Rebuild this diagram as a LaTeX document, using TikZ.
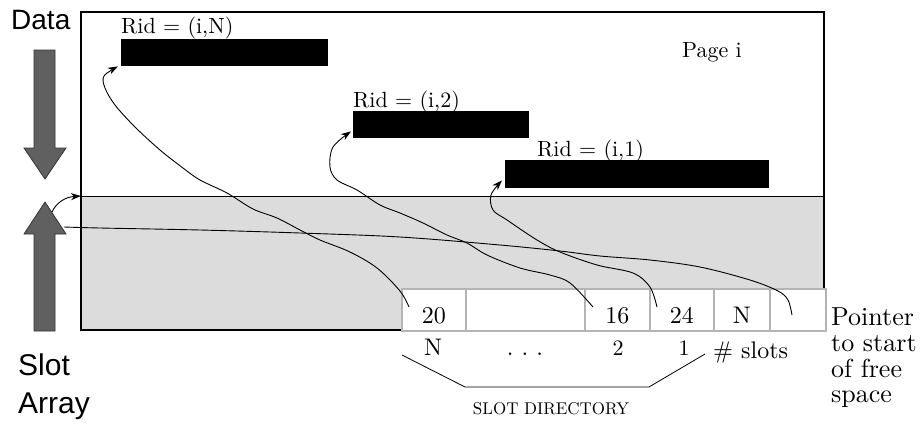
\documentclass[tikz,border=0pt]{standalone}
\usepackage{fontspec}
\setmainfont{lmroman10-regular.otf}[BoldFont=lmroman10-bold.otf]
\newfontfamily\sansf{Liberation Sans}
\usetikzlibrary{arrows.meta}
\definecolor{pagegray}{HTML}{DCDCDC}
\definecolor{arrowgray}{HTML}{606060}
\definecolor{arrowedge}{HTML}{333333}
\definecolor{cellgray}{HTML}{B4B4B4}
\tikzset{
  fs/.style={font=\fontsize{#1pt}{#1pt}\selectfont},
  sfs/.style={font=\sansf\fontsize{#1pt}{#1pt}\selectfont},
  cell/.style={draw=cellgray, line width=1.5pt, fill=white, minimum height=42pt,
    inner sep=0pt, text height=28pt, text depth=0pt, fs=24, anchor=north west},
  bar/.style={fill=black, inner sep=0pt, anchor=north west},
  blockarrow/.style={fill=arrowgray, draw=arrowedge, line width=0.8pt, line join=miter},
  conn/.style={line width=0.9pt, -{Stealth[length=10pt,width=7pt,inset=3pt]}},
  plain/.style={line width=0.9pt},
  lbl/.style={anchor=base west, inner sep=0pt},
}
\begin{document}
\begin{tikzpicture}[x=1pt,y=-1pt]
\useasboundingbox (0,0) rectangle (922,429);

% page
\fill[pagegray] (81,196) rectangle (824,330);
\draw[line width=1.8pt] (81,196) -- (81,12) -- (824,12) -- (824,288);
\draw[line width=1pt] (81,196) -- (824,196);
\draw[line width=1.6pt] (81,196) -- (81,330) -- (401,330);

% records
\node[bar, minimum width=207pt, minimum height=27pt] (barN) at (121,39) {};
\node[bar, minimum width=176pt, minimum height=27pt] (bar2) at (353,111) {};
\node[bar, minimum width=264pt, minimum height=28pt] (bar1) at (505,160) {};
\node[lbl, fs=22] (ridN) at (121,33) {Rid = (i,N)};
\node[lbl, fs=22] (rid2) at (353,107) {Rid = (i,2)};
\node[lbl, fs=22] (rid1) at (537,156) {Rid = (i,1)};
\node[lbl, fs=22] (pagei) at (682,57) {Page i};

% slot directory cells
\node[cell, minimum width=64pt] (c1) at (401,288) {20};
\node[cell, minimum width=119pt] (c2) at (465,288) {};
\node[cell, minimum width=65pt] (c3) at (584,288) {16};
\node[cell, minimum width=64pt] (c4) at (649,288) {24};
\node[cell, minimum width=56pt] (c5) at (713,288) {N};
\node[cell, minimum width=56pt] (c6) at (769,288) {};

% labels under cells
\node[anchor=base, inner sep=0pt, fs=24] (lN) at (433,355) {N};
\node[anchor=base, inner sep=0pt, fs=24] (ldots) at (525,355) {.\,\,.\,\,.};
\node[anchor=base, inner sep=0pt, fs=22] (l2) at (618,355) {2};
\node[anchor=base, inner sep=0pt, fs=22] (l1) at (684,355) {1};
\node[lbl, fs=24] (nslots) at (713,358) {\# slots};
\node[anchor=base, inner sep=0pt, fs=17] (sdir) at (551,414) {SLOT DIRECTORY};
\draw[line width=0.8pt] (402,355) -- (465,387) -- (649,387) -- (705,354);

% pointer text
\node[lbl, fs=26] (p1) at (831,325) {Pointer};
\node[lbl, fs=26] (p2) at (831,351) {to start};
\node[lbl, fs=26] (p3) at (831,377) {of free};
\node[lbl, fs=26] (p4) at (831,402) {space};

% side labels
\node[lbl, sfs=28] (data) at (11,29) {Data};
\node[lbl, sfs=30] (slot) at (18,375) {Slot};
\node[lbl, sfs=30] (array) at (18,413) {Array};

% block arrows
\draw[blockarrow] (34,50) -- (55,50) -- (55,148) -- (66,148) -- (45,179) -- (24,148) -- (34,148) -- cycle;
\draw[blockarrow] (34,331) -- (55,331) -- (55,234) -- (66,234) -- (45,202) -- (24,234) -- (34,234) -- cycle;

% connector end points
\coordinate (sA) at (409,307);
\coordinate (tA) at ([shift={(-3,0)}]barN.south west);
\coordinate (sB) at (593,307);
\coordinate (tB) at ([shift={(-2,-7)}]bar2.south west);
\coordinate (sC) at (657,307);
\coordinate (tC) at ([shift={(-3,-8)}]bar1.south west);
\coordinate (sD) at (792,315);
\coordinate (eD) at (64,227);
\coordinate (sE) at (52,212);
\coordinate (slotstart) at (81,196);

% slot -> record pointers
\draw[conn] plot[smooth, tension=0.55] coordinates {(sA) (400,291) (377,268) (350,252) (320,240) (300,230) (277,218) (253,209) (227,193) (200,180) (183,168) (160,150) (135,127) (115,105) (105,88) (104,76) (tA)};
\draw[conn] plot[smooth, tension=0.55] coordinates {(sB) (570,283) (550,275) (520,268) (487,255) (467,243) (447,235) (423,223) (400,213) (380,205) (357,190) (337,180) (330,167) (333,147) (tB)};
\draw[conn] plot[smooth, tension=0.55] coordinates {(sC) (650,287) (633,273) (597,265) (560,252) (537,240) (507,220) (493,210) (491,195) (tC)};
\draw[plain] plot[smooth, tension=0.55] coordinates {(sD) (788,300) (778,291) (750,280) (700,267) (650,260) (600,256) (560,251) (500,245) (400,237) (300,233) (200,230) (100,228) (eD)};
\draw[conn] (sE) .. controls (56,203) and (65,197) .. (slotstart);
\end{tikzpicture}
\end{document}
